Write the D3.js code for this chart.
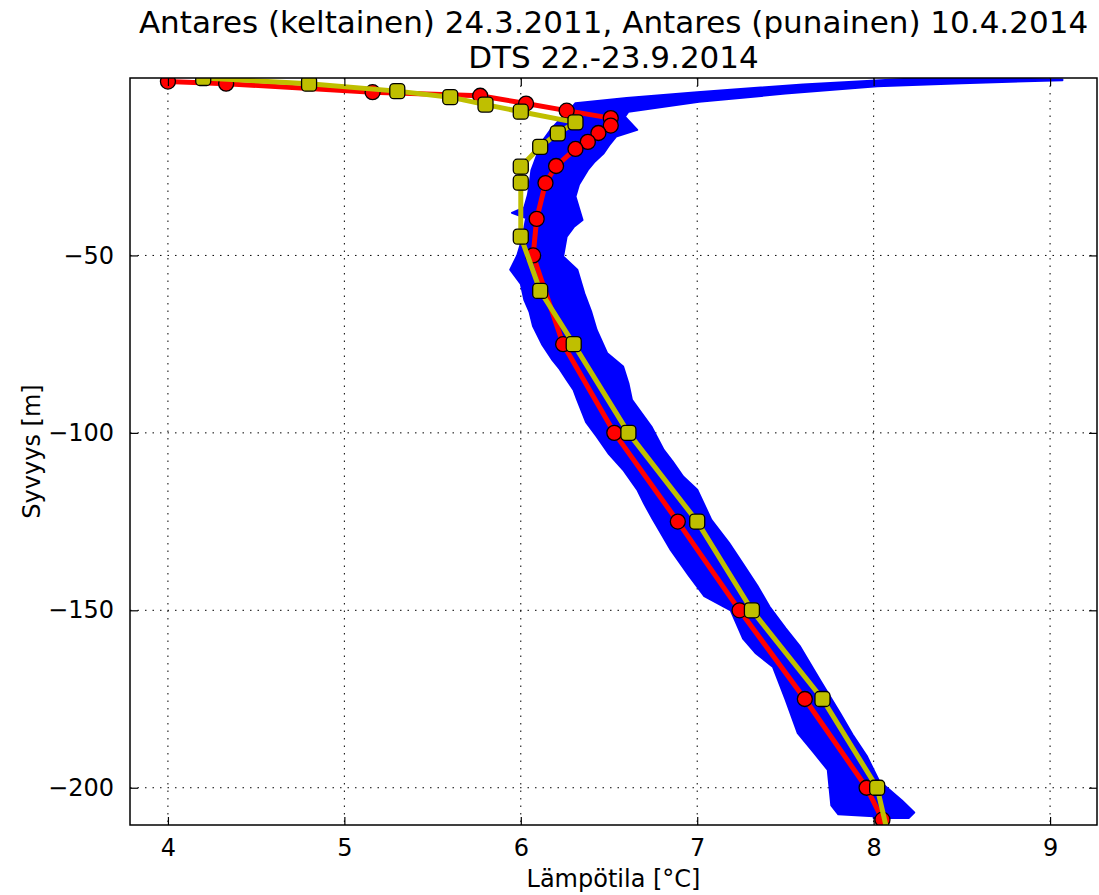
<!DOCTYPE html>
<html><head><meta charset="utf-8">
<script src="https://cdn.jsdelivr.net/npm/d3@7"></script>
<style>body{margin:0;background:#fff} text{font-family:"DejaVu Sans",sans-serif;fill:#000}</style>
</head><body><svg id="c" width="1099" height="895"></svg>
<script>
const titleLines = ["Antares (keltainen) 24.3.2011, Antares (punainen) 10.4.2014", "DTS 22.-23.9.2014"];
const xLabel = "Lämpötila [°C]";
const yLabel = "Syvyys [m]";
const xTicks = [4, 5, 6, 7, 8, 9];
const yTicks = [-50, -100, -150, -200];
const xDomain = [3.785, 9.266];
const yDomain = [-210.5, 0];

// Antares 10.4.2014 (red)
const redDepth = [-1, -1.6, -4, -5, -7.2, -9.2, -11.3, -13.4, -15.5, -18, -20, -24.8, -29.6, -39.7, -50, -75, -100, -125, -150, -175, -200, -209];
const redTemp  = [4.0, 4.33, 5.16, 5.77, 6.03, 6.26, 6.51, 6.51, 6.44, 6.38, 6.31, 6.20, 6.14, 6.09, 6.07, 6.24, 6.53, 6.89, 7.24, 7.61, 7.96, 8.05];

// Antares 24.3.2011 (yellow)
const yelDepth = [0, -1.6, -3.7, -5.4, -7.5, -9.5, -12.5, -15.6, -19.4, -25, -29.5, -44.7, -60, -75, -100, -125, -150, -175, -200, -215];
const yelTemp  = [4.2, 4.80, 5.30, 5.60, 5.80, 6.00, 6.31, 6.21, 6.11, 6.00, 6.00, 6.00, 6.11, 6.30, 6.61, 7.00, 7.31, 7.71, 8.02, 8.09];

// DTS 22.-23.9.2014 band outline (upper/left edge and lower/right edge)
const dtsLeftTemp  = [9.07, 8.6, 8.2, 7.6, 7.0, 6.6, 6.31, 6.27, 6.22, 6.17, 6.12, 6.09, 6.06, 6.05, 6.04, 6.02, 5.95, 6.03, 6.01, 5.98, 5.94, 6.0, 6.02, 6.05, 6.07, 6.12, 6.18, 6.22, 6.26, 6.30, 6.32, 6.37, 6.43, 6.50, 6.58, 6.66, 6.70, 6.75, 6.85, 6.95, 7.04, 7.19, 7.26, 7.33, 7.43, 7.50, 7.57, 7.66, 7.74, 7.76, 7.80, 8.0];
const dtsLeftDepth = [-0.4, -0.1, -0.2, -1.8, -4.0, -5.6, -7.1, -9.5, -11.8, -14.5, -18, -22, -26, -30, -33, -36.5, -38, -39.5, -45, -50, -54, -58, -62.5, -66, -70, -75, -79.5, -82, -85, -88, -90.7, -97, -101, -106, -110.4, -116, -120, -124.5, -133, -140, -146, -150, -158, -162, -166, -175, -184.6, -190, -195, -205, -207.5, -208];
const dtsRightTemp  = [9.07, 8.5, 8.02, 7.5, 7.01, 6.61, 6.59, 6.66, 6.54, 6.50, 6.47, 6.42, 6.38, 6.33, 6.31, 6.35, 6.30, 6.26, 6.24, 6.32, 6.36, 6.40, 6.43, 6.49, 6.58, 6.61, 6.63, 6.74, 6.81, 6.86, 6.92, 7.0, 7.08, 7.18, 7.26, 7.34, 7.41, 7.50, 7.58, 7.70, 7.81, 7.88, 7.96, 8.03, 8.16, 8.23, 8.2, 8.0];
const dtsRightDepth = [-0.6, -1.5, -2.3, -4.4, -6.7, -9.5, -10.9, -14.6, -16.5, -19, -21.2, -23.5, -25.9, -30, -33.4, -40, -42, -44.7, -50.3, -54, -60.7, -66, -71, -77.6, -81.3, -86, -90.7, -98.2, -104.8, -108, -112.3, -116, -124.5, -131, -137, -143, -149, -155, -160, -170, -179, -185, -191, -198, -203.6, -207, -208.5, -208.5];

const W = 1099, H = 895;
const m = {left: 130, right: 1097, top: 78, bottom: 825};
const svg = d3.select("#c");
const x = d3.scaleLinear().domain(xDomain).range([m.left, m.right]);
const y = d3.scaleLinear().domain(yDomain).range([m.bottom, m.top]);

svg.append("rect").attr("x",0).attr("y",0).attr("width",W).attr("height",H).attr("fill","#fff");
svg.append("clipPath").attr("id","clip").append("rect")
  .attr("x", m.left).attr("y", m.top).attr("width", m.right-m.left).attr("height", m.bottom-m.top);

// grid
const grid = svg.append("g").attr("stroke","#000").attr("stroke-width",1).attr("stroke-dasharray","1.5,6");
xTicks.forEach(t => grid.append("line").attr("x1",x(t)).attr("x2",x(t)).attr("y1",m.top).attr("y2",m.bottom));
yTicks.forEach(t => grid.append("line").attr("y1",y(t)).attr("y2",y(t)).attr("x1",m.left).attr("x2",m.right));

const plot = svg.append("g").attr("clip-path","url(#clip)");

// DTS band
const leftPts = dtsLeftTemp.map((t,i)=>[x(t), y(dtsLeftDepth[i])]);
const rightPts = dtsRightTemp.map((t,i)=>[x(t), y(dtsRightDepth[i])]);
const poly = leftPts.concat(rightPts.slice().reverse());
plot.append("path").attr("d", d3.line()(poly) + "Z").attr("fill","#0000ff").attr("stroke","#0000ff").attr("stroke-width",2).attr("stroke-linejoin","round");

const line = d3.line();
// red
const redPts = redTemp.map((t,i)=>[x(t), y(redDepth[i])]);
plot.append("path").attr("d", line(redPts)).attr("fill","none").attr("stroke","#ff0000").attr("stroke-width",5).attr("stroke-linejoin","round");
plot.selectAll(".rm").data(redPts).enter().append("circle")
  .attr("cx",d=>d[0]).attr("cy",d=>d[1]).attr("r",7.5)
  .attr("fill","#ff0000").attr("stroke","#000").attr("stroke-width",1.3);
// yellow
const yelPts = yelTemp.map((t,i)=>[x(t), y(yelDepth[i])]);
plot.append("path").attr("d", line(yelPts)).attr("fill","none").attr("stroke","#bfbf00").attr("stroke-width",5).attr("stroke-linejoin","round");
plot.selectAll(".ym").data(yelPts).enter().append("rect")
  .attr("x",d=>d[0]-7.5).attr("y",d=>d[1]-7.5).attr("width",15).attr("height",15).attr("rx",4)
  .attr("fill","#bfbf00").attr("stroke","#000").attr("stroke-width",1.3);

// frame
svg.append("rect").attr("x",m.left).attr("y",m.top).attr("width",m.right-m.left).attr("height",m.bottom-m.top)
  .attr("fill","none").attr("stroke","#000").attr("stroke-width",1.5);

// axes with inward ticks
const axB = d3.axisBottom(x).tickValues(xTicks).tickSize(-8).tickPadding(14).tickFormat(d3.format("d"));
const axT = d3.axisTop(x).tickValues(xTicks).tickSize(-8).tickFormat("");
const axL = d3.axisLeft(y).tickValues(yTicks).tickSize(-8).tickPadding(16).tickFormat(d=>"\u2212"+Math.abs(d));
const axR = d3.axisRight(y).tickValues(yTicks).tickSize(-8).tickFormat("");
function style(g){ g.select(".domain").remove(); g.selectAll("line").attr("stroke","#000").attr("stroke-width",1.2);
  g.selectAll("text").attr("font-size",24).attr("font-family","DejaVu Sans").attr("fill","#000"); }
svg.append("g").attr("transform",`translate(0,${m.bottom})`).call(axB).call(style);
svg.append("g").attr("transform",`translate(0,${m.top})`).call(axT).call(style);
svg.append("g").attr("transform",`translate(${m.left},0)`).call(axL).call(style);
svg.append("g").attr("transform",`translate(${m.right},0)`).call(axR).call(style);

// titles
const cx = (m.left+m.right)/2;
svg.append("text").attr("x",cx).attr("y",33).attr("text-anchor","middle").attr("font-size",31).text(titleLines[0]);
svg.append("text").attr("x",cx).attr("y",68).attr("text-anchor","middle").attr("font-size",31).text(titleLines[1]);
svg.append("text").attr("x",cx).attr("y",887).attr("text-anchor","middle").attr("font-size",24).text(xLabel);
svg.append("text").attr("transform",`translate(40,${(m.top+m.bottom)/2}) rotate(-90)`).attr("text-anchor","middle").attr("font-size",24).text(yLabel);
</script></body></html>
